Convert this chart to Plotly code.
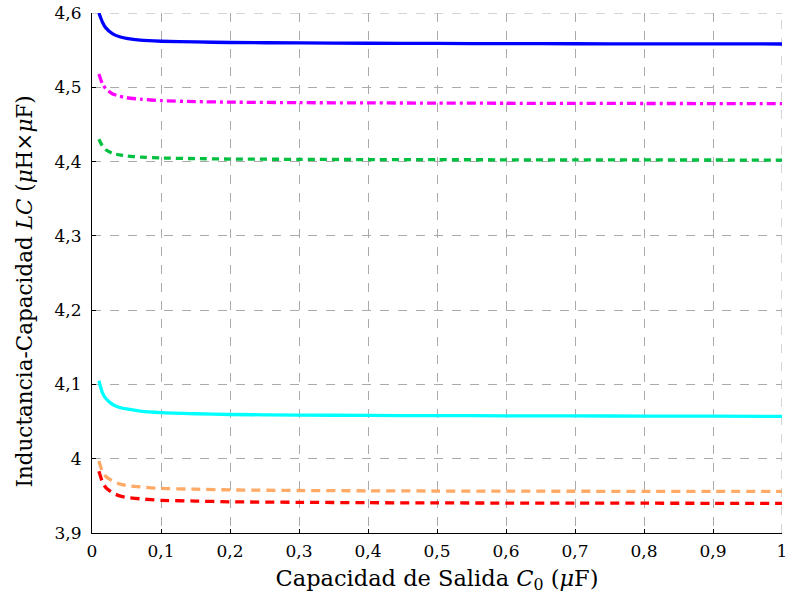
import plotly.graph_objects as go

x_vals = [0.01, 0.015, 0.02, 0.03, 0.04, 0.05, 0.07, 0.1, 0.15, 0.2, 0.3, 0.4, 0.5, 0.6, 0.7, 0.8, 0.9, 1.0]

blue = [4.600, 4.588, 4.580, 4.572, 4.568, 4.566, 4.5635, 4.562, 4.561, 4.5603, 4.5597, 4.5593, 4.559, 4.5588, 4.5586, 4.5585, 4.5584, 4.5583]
magenta = [4.518, 4.505, 4.498, 4.491, 4.488, 4.486, 4.484, 4.482, 4.4807, 4.480, 4.4793, 4.479, 4.4787, 4.4785, 4.4783, 4.4782, 4.4781, 4.478]
green = [4.430, 4.421, 4.416, 4.411, 4.409, 4.4076, 4.406, 4.4048, 4.404, 4.4034, 4.403, 4.4027, 4.4025, 4.4024, 4.4023, 4.4022, 4.4021, 4.402]
cyan = [4.105, 4.089, 4.081, 4.073, 4.069, 4.067, 4.064, 4.062, 4.0605, 4.0595, 4.0588, 4.0583, 4.058, 4.0578, 4.0576, 4.0574, 4.0572, 4.057]
orange = [3.997, 3.983, 3.976, 3.970, 3.966, 3.964, 3.962, 3.960, 3.959, 3.958, 3.9572, 3.9568, 3.9565, 3.9563, 3.9562, 3.9561, 3.956, 3.956]
red = [3.983, 3.969, 3.961, 3.954, 3.950, 3.948, 3.946, 3.944, 3.943, 3.942, 3.9413, 3.9408, 3.9405, 3.9403, 3.9402, 3.9401, 3.940, 3.940]

x_ticks = [0, 0.1, 0.2, 0.3, 0.4, 0.5, 0.6, 0.7, 0.8, 0.9, 1.0]
x_labels = ["0", "0,1", "0,2", "0,3", "0,4", "0,5", "0,6", "0,7", "0,8", "0,9", "1"]
y_ticks = [3.9, 4.0, 4.1, 4.2, 4.3, 4.4, 4.5, 4.6]
y_labels = ["3,9", "4", "4,1", "4,2", "4,3", "4,4", "4,5", "4,6"]

x_title = "Capacidad de Salida <i>C</i><sub>0</sub> (<i>μ</i>F)"
y_title = "Inductancia-Capacidad <i>LC</i> (<i>μ</i>H×<i>μ</i>F)"

series = [
    (blue, "#0000ff", "solid"),
    (magenta, "#ff00ff", "9px,4px,3px,4px"),
    (green, "#00c040", "7px,5px"),
    (cyan, "#00ffff", "solid"),
    (orange, "#ffaa66", "9px,6px"),
    (red, "#ff0000", "9px,6px"),
]

fig = go.Figure()
for ys, col, dash in series:
    fig.add_trace(go.Scatter(x=x_vals, y=ys, mode="lines", line=dict(color=col, width=3.3, dash=dash, shape="spline", smoothing=0.6), showlegend=False))

# edge grid lines (top and right) that plotly omits
fig.add_shape(type="line", xref="paper", yref="y", x0=0, x1=1, y0=y_ticks[-1], y1=y_ticks[-1],
              line=dict(color="#aaaaaa", width=1, dash="dash"), layer="below")
fig.add_shape(type="line", xref="x", yref="paper", x0=x_ticks[-1], x1=x_ticks[-1], y0=0, y1=1,
              line=dict(color="#aaaaaa", width=1, dash="dash"), layer="below")

fig.add_annotation(text=y_title, xref="paper", yref="paper", x=-0.098, y=0.465,
                   xanchor="center", yanchor="middle", textangle=-90, showarrow=False,
                   font=dict(size=21.5, family="DejaVu Serif", color="black"))

font = "DejaVu Serif"
fig.update_layout(
    width=790, height=606,
    margin=dict(l=92, r=3, t=12, b=73),
    paper_bgcolor="white", plot_bgcolor="white",
    font=dict(family=font, size=17, color="black"),
    separators=",.",
    xaxis=dict(
        range=[0, 1], tickvals=x_ticks, ticktext=x_labels,
        showgrid=True, gridcolor="#aaaaaa", griddash="dash", gridwidth=1,
        showline=True, linecolor="black", linewidth=1.2,
        ticks="inside", ticklen=4, tickcolor="black",
        zeroline=False, ticklabeloverflow="allow", ticklabelstandoff=2,
        title=dict(text=x_title, font=dict(size=22.5), standoff=10),
    ),
    yaxis=dict(
        range=[3.9, 4.6], tickvals=y_ticks, ticktext=y_labels,
        showgrid=True, gridcolor="#aaaaaa", griddash="dash", gridwidth=1,
        showline=True, linecolor="black", linewidth=1.2,
        ticks="inside", ticklen=4, tickcolor="black",
        zeroline=False, ticklabeloverflow="allow", ticklabelstandoff=6,
    ),
)

fig.write_html("out.html")
